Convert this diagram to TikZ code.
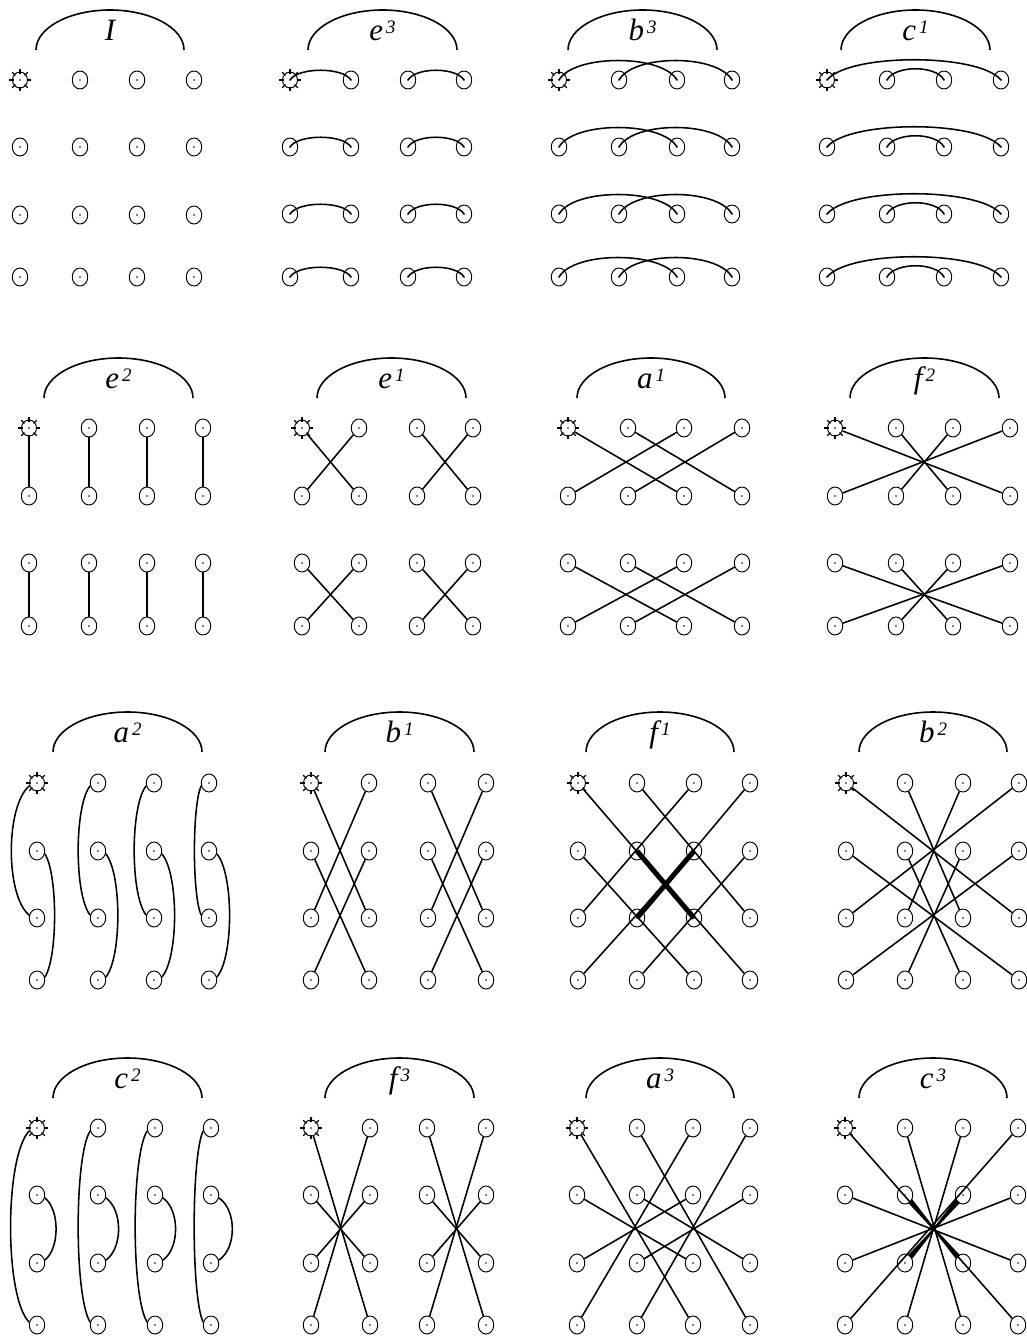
\documentclass[tikz,border=0pt]{standalone}
\usepackage{fontspec}
\setmainfont{Liberation Serif}
\usetikzlibrary{shapes.geometric,calc}
\tikzset{
  pt/.style={ellipse, draw, line width=0.95pt, minimum width=15.5pt, minimum height=18pt, inner sep=0pt,
     path picture={\fill (path picture bounding box.center) circle (0.85pt);}},
  sun/.style={pt, minimum width=15pt, minimum height=16pt},
  ray/.style={line width=1.2pt},
  conn/.style={line width=1.55pt},
  heavy/.style={line width=5pt},
  bigarc/.style={line width=1.6pt},
  lbl/.style={anchor=base, inner sep=0pt, font=\fontsize{31}{34}\selectfont\itshape},
}
\newcommand\suplab[2]{#1\hspace{3pt}\raisebox{7pt}{\fontsize{19}{19}\selectfont #2}}
\newcommand\panel[7]{%
  \foreach \xx [count=\cx] in {#2} {
    \foreach \yy [count=\ry] in {#3} {
      \ifnum\cx\ry=11
        \node[sun] (#1-\cx-\ry) at (\xx,\yy) {};
      \else
        \node[pt] (#1-\cx-\ry) at (\xx,\yy) {};
      \fi
    }
  }
  \foreach \a in {0,45,...,315}
    \draw[ray] ($(#1-1-1)+(\a:6.5pt)$) -- ($(#1-1-1)+(\a:11pt)$);
  \draw[bigarc] (#4,#6) .. controls (#4,#6-22) and ({(#4+#5)/2-0.552*(#5-#4)/2},#6-40) .. ({(#4+#5)/2},#6-40)
     .. controls ({(#4+#5)/2+0.552*(#5-#4)/2},#6-40) and (#5,#6-22) .. (#5,#6);
  \node[lbl] (#1-lbl) at ({(#4+#5)/2},#6-10) {#7};
}
\newcommand\pairs[3]{\foreach \jr/\kr in {#2} {\foreach \pc/\qc in {#3} {\draw[conn] (#1-\pc-\jr) -- (#1-\qc-\kr);}}}
\begin{document}
\begin{tikzpicture}[x=1pt,y=-1pt]
\useasboundingbox (0,0) rectangle (1027,1336);
% row 1
\panel{pI}{20,80,137,194}{80,147,215,277}{36}{184}{50}{I}
\panel{e3}{290,351,408,464}{80,147,214,277}{308}{457}{50}{\suplab{e}{3}}
\panel{b3}{559,619,677,732}{80,147,214,277}{568}{717}{50}{\suplab{b}{3}}
\panel{c1}{827,887,944,1001}{80,147,214,277}{841}{990}{50}{\suplab{c}{1}}
% row 2
\panel{e2}{29,89,147,203}{428,496,563,626}{44}{193}{398}{\suplab{e}{2}}
\panel{e1}{302,359,417,473}{428,496,563,626}{317}{466}{398}{\suplab{e}{1}}
\panel{a1}{568,628,684,742}{428,496,563,626}{577}{725}{398}{\suplab{a}{1}}
\panel{f2}{835,896,953,1010}{428,496,563,626}{850}{999}{398}{\suplab{f}{2}}
% row 3
\panel{a2}{37,98,154,209}{783,851,918,980}{53}{202}{752}{\suplab{a}{2}}
\panel{b1}{311,369,428,486}{783,851,918,980}{325}{474}{752}{\suplab{b}{1}}
\panel{f1}{578,637,694,750}{783,851,918,980}{586}{734}{752}{\suplab{f}{1}}
\panel{b2}{846,905,963,1019}{783,851,918,980}{859}{1007}{752}{\suplab{b}{2}}
% row 4
\panel{c2}{37,98,155,211}{1128,1195,1263,1325}{53}{202}{1098}{\suplab{c}{2}}
\panel{f3}{311,370,427,486}{1128,1195,1263,1325}{325}{474}{1098}{\suplab{f}{3}}
\panel{a3}{577,637,693,750}{1128,1195,1263,1325}{586}{734}{1098}{\suplab{a}{3}}
\panel{c3}{845,905,963,1018}{1128,1195,1263,1325}{859}{1007}{1098}{\suplab{c}{3}}

% horizontal arcs
\foreach \j in {1,...,4} {
  \draw[conn] (e3-1-\j.center) .. controls +(8,-13) and +(-8,-13) .. (e3-2-\j.center);
  \draw[conn] (e3-3-\j.center) .. controls +(8,-13) and +(-8,-13) .. (e3-4-\j.center);
  \draw[conn] (b3-1-\j.center) .. controls +(15,-26) and +(-15,-26) .. (b3-3-\j.center);
  \draw[conn] (b3-2-\j.center) .. controls +(15,-26) and +(-15,-26) .. (b3-4-\j.center);
  \draw[conn] (c1-1-\j.center) .. controls +(22,-27) and +(-22,-27) .. (c1-4-\j.center);
  \draw[conn] (c1-2-\j.center) .. controls +(8,-15) and +(-8,-15) .. (c1-3-\j.center);
}
% vertical straight
\foreach \i in {1,...,4} {
  \draw[conn] (e2-\i-1) -- (e2-\i-2);
  \draw[conn] (e2-\i-3) -- (e2-\i-4);
}
\pairs{e1}{1/2,3/4}{1/2,2/1,3/4,4/3}
\pairs{a1}{1/2,3/4}{1/3,3/1,2/4,4/2}
\pairs{f2}{1/2,3/4}{1/4,4/1,2/3,3/2}
\pairs{b1}{1/3,2/4}{1/2,2/1,3/4,4/3}
\pairs{f1}{1/3,2/4}{1/3,3/1,2/4,4/2}
\pairs{b2}{1/3,2/4}{1/4,4/1,2/3,3/2}
\pairs{f3}{1/4,2/3}{1/2,2/1,3/4,4/3}
\pairs{a3}{1/4,2/3}{1/3,3/1,2/4,4/2}
\pairs{c3}{1/4,2/3}{1/4,4/1,2/3,3/2}
% heavy overlaps in f1
\draw[heavy] (f1-2-2.center) -- (f1-3-3.center);
\draw[heavy] (f1-3-2.center) -- (f1-2-3.center);
% wedges in c3
\coordinate (c3-O) at ($(c3-2-2)!0.5!(c3-3-3)$);
\foreach \p in {2-2,3-2,2-3,3-3} {
  \coordinate (c3-w) at ($(c3-\p)!8pt!(c3-O)$);
  \fill ($(c3-w)!2.7pt!90:(c3-O)$) -- ($(c3-w)!2.7pt!-90:(c3-O)$) -- ($(c3-O)!1pt!90:(c3-w)$) -- ($(c3-O)!1pt!-90:(c3-w)$) -- cycle;
}
% a2 curved
\foreach \i/\lc/\rc in {1/24/13,2/16/16,3/16/17,4/9/17} {
  \draw[conn] (a2-\i-1.200) .. controls +(-\lc,20) and +(-\lc,-20) .. (a2-\i-3.160);
  \draw[conn] (a2-\i-2.-20) .. controls +(\rc,20) and +(\rc,-20) .. (a2-\i-4.20);
}
% c2 curved
\foreach \i/\lc/\rc in {1/25/15,2/16/17,3/16/17,4/12/18} {
  \draw[conn] (c2-\i-1.200) .. controls +(-\lc,25) and +(-\lc,-25) .. (c2-\i-4.160);
  \draw[conn] (c2-\i-2.-20) .. controls +(\rc,12) and +(\rc,-12) .. (c2-\i-3.20);
}
\end{tikzpicture}
\end{document}
